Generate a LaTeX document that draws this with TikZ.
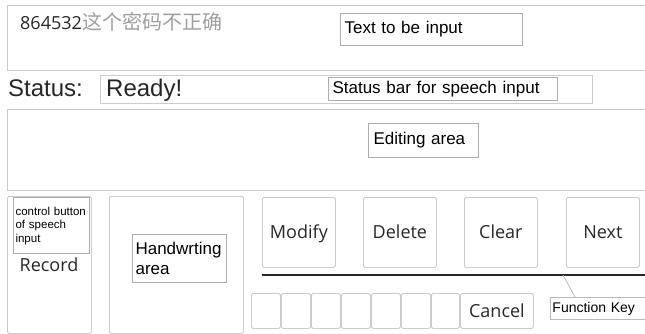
\documentclass[tikz,border=0pt]{standalone}
\usepackage{fontspec}
\setmainfont{Liberation Sans}
\newfontfamily\btnfont{Open Sans}
\newfontfamily\cjk{Noto Sans CJK SC}
\begin{document}
\begin{tikzpicture}[x=1pt,y=-1pt,
  panel/.style={draw=gray!40, line width=0.8pt},
  keybox/.style={draw=gray!40, line width=0.8pt, rounded corners=1.5pt, anchor=north west, inner sep=0pt,
    text height=14pt, text depth=1pt,
    font=\btnfont\fontsize{18}{21}\selectfont, text=black!85},
  labelbox/.style={draw=gray!65, line width=1.1pt, anchor=north west, align=left, inner ysep=0pt,
    font=\fontsize{17}{20}\selectfont},
  plain/.style={inner sep=0pt, anchor=base west}
]
\useasboundingbox (0,0) rectangle (645,334);

% panels
\node[panel, anchor=north west, minimum width=643, minimum height=65, inner sep=0pt] (toppanel) at (7,5) {};
\node[panel, anchor=north west, minimum width=492, minimum height=28, inner sep=0pt] (readybox) at (100,75) {};
\node[panel, anchor=north west, minimum width=643, minimum height=81, inner sep=0pt] (editpanel) at (7,109) {};
\node[panel, rounded corners=1.5pt, anchor=north west, minimum width=84, minimum height=137, inner sep=0pt] (recpanel) at (7,196) {};
\node[panel, rounded corners=1.5pt, anchor=north west, minimum width=134, minimum height=137, inner sep=0pt] (hwpanel) at (109,196) {};

% texts
\node[plain, font=\btnfont\fontsize{18}{21}\selectfont, text=black!85] (digits) at (20,30) {864532};
\node[plain, font=\cjk\fontsize{20}{22}\selectfont, text=gray!75] (cjktext) at (digits.base east) {这个密码不正确};
\node[plain, font=\fontsize{24}{28}\selectfont, text=black!85] (status) at (8,97) {Status:};
\node[plain, font=\fontsize{24}{28}\selectfont, text=black!85] (ready) at (106,97) {Ready!};

% label boxes
\node[labelbox, text width=174pt, inner xsep=4pt, minimum height=32] (tbi) at (340,13) {Text to be input};
\node[labelbox, text width=221pt, inner xsep=4pt, minimum height=23] (sbar) at (328,77) {Status bar for speech input};
\node[labelbox, text width=100pt, inner xsep=5pt, minimum height=34] (edit) at (368,123) {Editing area};
\node[labelbox, text width=88pt, inner xsep=3pt, minimum height=48] (hw) at (132,234) {Handwrting\\area};
\node[labelbox, text width=72pt, inner xsep=2pt, minimum height=56, font=\fontsize{11.5}{13.5}\selectfont] (ctrl) at (13,197) {control button\\of speech\\input};
\node[plain, anchor=center, font=\btnfont\fontsize{18}{21}\selectfont, text=black!85] (record) at (49,265) {Record};

% buttons
\node[keybox, minimum width=73, minimum height=70] (modify) at (262,197) {Modify};
\node[keybox, minimum width=73, minimum height=70] (delete) at (363,197) {Delete};
\node[keybox, minimum width=73, minimum height=70] (clear) at (464,197) {Clear};
\node[keybox, minimum width=73, minimum height=70] (next) at (566,197) {Next};

% thick line
\coordinate (lineL) at (262,275);
\coordinate (lineR) at (650,275);
\draw[gray!30!black, line width=2pt] (lineL) -- (lineR);

% small keys
\node[keybox, minimum width=29, minimum height=35] (k1) at (251,293) {};
\node[keybox, minimum width=29, minimum height=35] (k2) at (281,293) {};
\node[keybox, minimum width=29, minimum height=35] (k3) at (311,293) {};
\node[keybox, minimum width=29, minimum height=35] (k4) at (341,293) {};
\node[keybox, minimum width=29, minimum height=35] (k5) at (371,293) {};
\node[keybox, minimum width=29, minimum height=35] (k6) at (401,293) {};
\node[keybox, minimum width=28, minimum height=35] (k7) at (431,293) {};
\node[keybox, minimum width=73, minimum height=35] (cancel) at (460,293) {Cancel};

% function key label
\node[labelbox, draw=gray!55, line width=0.9pt, text width=96pt, inner xsep=2pt, minimum height=22, font=\fontsize{14}{16}\selectfont] (fk) at (550,297) {Function Key};
\coordinate (fkstart) at (563,275);
\path (fk.north west) ++(25,0) coordinate (fkend);
\draw[gray!60, line width=0.7pt] (fkstart) -- (fkend);
\end{tikzpicture}
\end{document}
